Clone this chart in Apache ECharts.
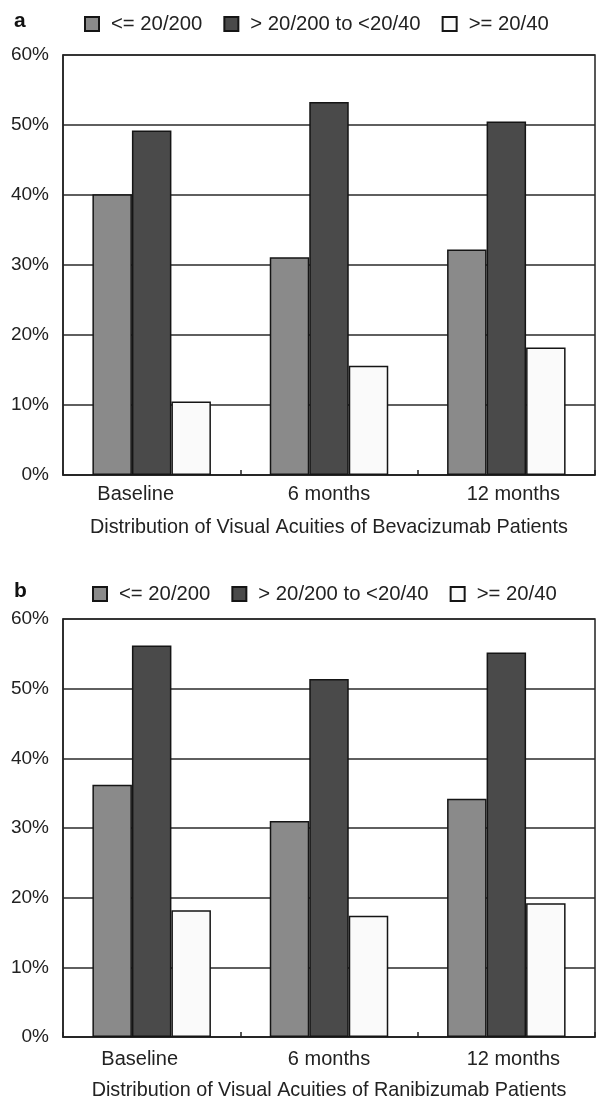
<!DOCTYPE html>
<html>
<head>
<meta charset="utf-8">
<script src="https://cdn.jsdelivr.net/npm/echarts@6/dist/echarts.min.js"></script>
<style>
  html, body { margin: 0; padding: 0; background: #fff; }
  #chart { width: 596px; height: 1102px; }
</style>
</head>
<body>
<div id="chart"></div>
<script>
// Visit labels and legend categories
const categories = ['Baseline', '6 months', '12 months'];
const seriesNames = ['<= 20/200', '> 20/200 to <20/40', '>= 20/40'];
const yTicks = [0, 10, 20, 30, 40, 50, 60];

// Bevacizumab patients (% of eyes)
const bevaPoor = [40.1, 31.1, 32.2];
const bevaMid = [49.2, 53.3, 50.5];
const bevaGood = [10.5, 15.6, 18.2];

// Ranibizumab patients (% of eyes)
const raniPoor = [36.2, 31.0, 34.2];
const raniMid = [56.2, 51.4, 55.2];
const raniGood = [18.2, 17.4, 19.2];

const FONT = '"Liberation Sans", Arial, Helvetica, sans-serif';
const colors = ['#8a8a8a', '#4a4a4a', '#fafafa'];

const chart = echarts.init(document.getElementById('chart'), null, { renderer: 'canvas' });

function xAxisFor(gridIndex, title, labelMargin, nameGap, shifts) {
  const lbl = { fontFamily: FONT, fontSize: 20, color: '#222' };
  return {
    type: 'category',
    gridIndex: gridIndex,
    data: categories,
    name: title,
    nameLocation: 'middle',
    nameGap: nameGap,
    nameTextStyle: { fontFamily: FONT, fontSize: 19.8, color: '#222' },
    axisLine: { show: true, lineStyle: { color: '#222', width: 1.5 } },
    axisTick: { show: true, inside: true, length: 5, lineStyle: { color: '#222', width: 1.5 } },
    axisLabel: {
      margin: labelMargin,
      fontFamily: FONT, fontSize: 20, color: '#222',
      formatter: function (v, i) { return '{c' + i + '|' + v + '}'; },
      rich: {
        c0: Object.assign({ padding: [0, shifts[0] * 2, 0, 0] }, lbl),
        c1: Object.assign({}, lbl),
        c2: Object.assign({ padding: [0, 0, 0, shifts[1] * 2] }, lbl)
      }
    },
    splitLine: { show: false }
  };
}

function yAxisFor(gridIndex) {
  return {
    type: 'value',
    gridIndex: gridIndex,
    min: yTicks[0],
    max: yTicks[yTicks.length - 1],
    interval: yTicks[1] - yTicks[0],
    axisLine: { show: true, lineStyle: { color: '#222', width: 1.5 } },
    axisTick: { show: false },
    axisLabel: { margin: 14, fontFamily: FONT, fontSize: 19, color: '#222', formatter: '{value}%' },
    splitLine: { show: true, lineStyle: { color: '#2a2a2a', width: 1.5 } }
  };
}

function barSeries(name, data, colorIdx, axisIdx) {
  return {
    type: 'bar',
    name: name,
    data: data,
    xAxisIndex: axisIdx,
    yAxisIndex: axisIdx,
    barWidth: 39.5,
    barGap: '0%',
    itemStyle: { color: colors[colorIdx], borderColor: '#151515', borderWidth: 1.5 },
    emphasis: { disabled: true },
    animation: false
  };
}

function legendFor(top, left) {
  return {
    top: top,
    left: left,
    itemWidth: 14,
    itemHeight: 14,
    itemGap: 21,
    icon: 'rect',
    selectedMode: false,
    data: seriesNames,
    textStyle: { fontFamily: FONT, fontSize: 20.3, color: '#222', padding: [0, 0, 0, 7] }
  };
}

chart.setOption({
  backgroundColor: '#ffffff',
  animation: false,
  title: [
    { text: 'a', left: 9, top: 6, textStyle: { fontFamily: FONT, fontSize: 21, fontWeight: 'bold', color: '#111' } },
    { text: 'b', left: 9, top: 576, textStyle: { fontFamily: FONT, fontSize: 21, fontWeight: 'bold', color: '#111' } }
  ],
  legend: [legendFor(9, 79), legendFor(579, 87)],
  grid: [
    { left: 63, right: 1, top: 55, height: 420, show: true, borderColor: '#222', borderWidth: 1.5, backgroundColor: 'transparent' },
    { left: 63, right: 1, top: 619, height: 419, show: true, borderColor: '#222', borderWidth: 1.5, backgroundColor: 'transparent' }
  ],
  xAxis: [
    xAxisFor(0, 'Distribution of Visual Acuities of Bevacizumab Patients', 9, 43, [16, 7]),
    xAxisFor(1, 'Distribution of Visual Acuities of Ranibizumab Patients', 12, 44, [12, 7])
  ],
  yAxis: [yAxisFor(0), yAxisFor(1)],
  series: [
    barSeries(seriesNames[0], bevaPoor, 0, 0),
    barSeries(seriesNames[1], bevaMid, 1, 0),
    barSeries(seriesNames[2], bevaGood, 2, 0),
    barSeries(seriesNames[0], raniPoor, 0, 1),
    barSeries(seriesNames[1], raniMid, 1, 1),
    barSeries(seriesNames[2], raniGood, 2, 1)
  ]
});
</script>
</body>
</html>
